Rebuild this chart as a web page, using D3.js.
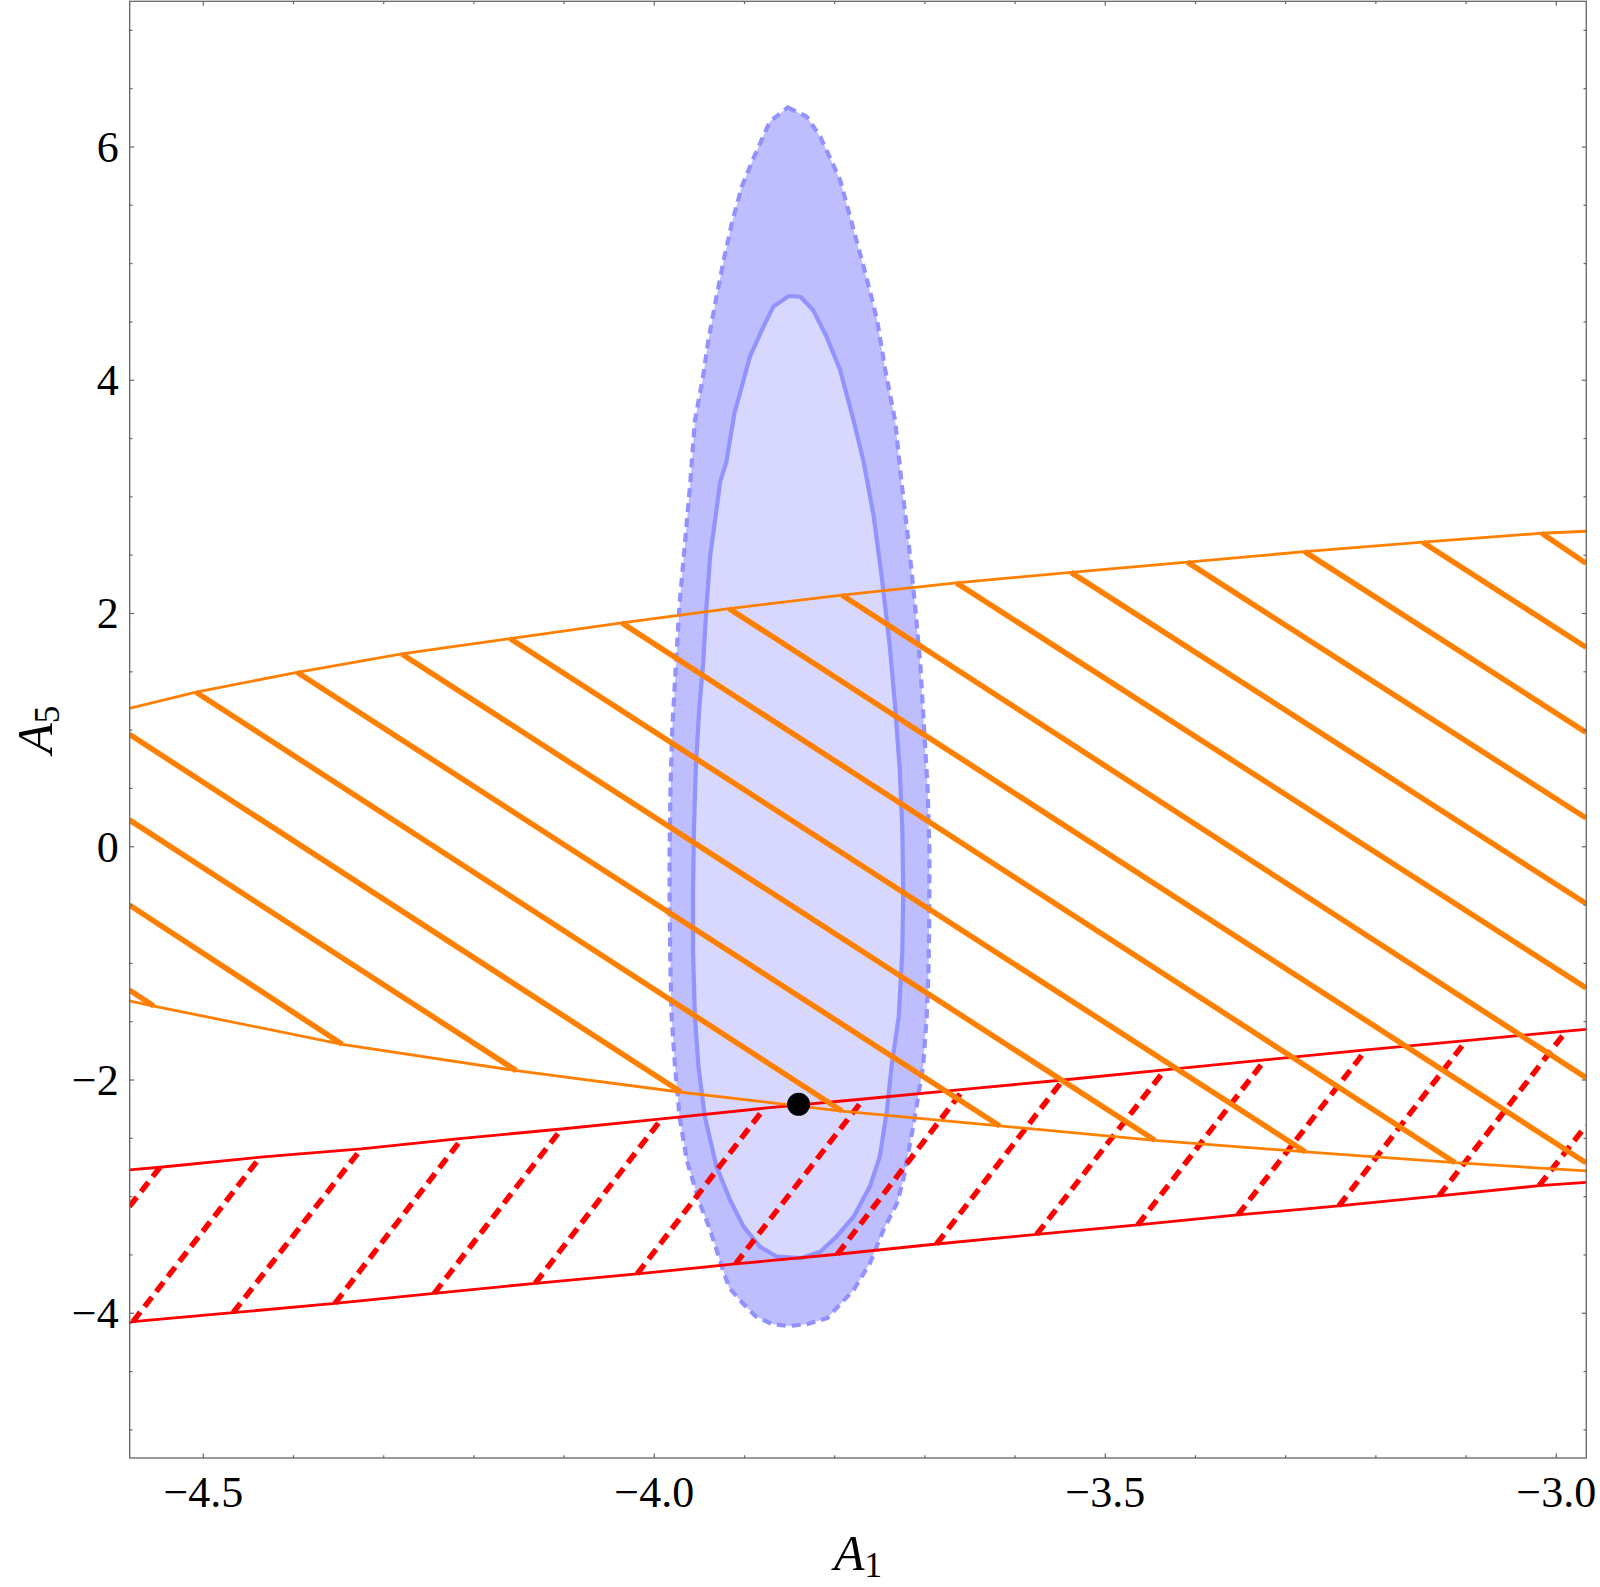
<!DOCTYPE html>
<html><head><meta charset="utf-8">
<script src="https://cdn.jsdelivr.net/npm/d3@7"></script>
<style>body{margin:0;background:#fff}svg{display:block}</style>
</head><body>
<svg id="chart" width="1600" height="1587"></svg>
<script>
// ---- axes ----
const xDomain = [-4.5816, -2.9667];
const yDomain = [-5.241, 7.249];
const xMajorTicks = [-4.5, -4.0, -3.5, -3.0];
const xTickLabels = ["\u22124.5", "\u22124.0", "\u22123.5", "\u22123.0"];
const yMajorTicks = [-4, -2, 0, 2, 4, 6];
const yTickLabels = ["\u22124", "\u22122", "0", "2", "4", "6"];
const xLabel = ["A", "1"];
const yLabel = ["A", "5"];

// ---- blue confidence regions (A1, A5) ----
const blueOuter = [
  [-3.852,6.339],[-3.831,6.260],[-3.816,6.088],[-3.805,5.903],[-3.794,5.717],[-3.785,5.460],
  [-3.776,5.203],[-3.765,4.888],[-3.753,4.517],[-3.744,4.088],[-3.733,3.652],[-3.726,3.128],
  [-3.718,2.602],[-3.711,2.077],[-3.705,1.553],[-3.701,1.027],[-3.697,0.502],[-3.695,-0.023],
  [-3.695,-0.547],[-3.696,-1.072],[-3.698,-1.457],[-3.702,-1.886],[-3.713,-2.400],[-3.724,-2.857],
  [-3.731,-3.057],[-3.746,-3.286],[-3.761,-3.571],[-3.779,-3.800],[-3.808,-4.040],[-3.830,-4.092],
  [-3.850,-4.109],[-3.870,-4.092],[-3.888,-4.023],[-3.902,-3.914],[-3.917,-3.781],[-3.925,-3.601],
  [-3.938,-3.286],[-3.951,-3.029],[-3.964,-2.686],[-3.972,-2.314],[-3.977,-1.886],[-3.981,-1.428],
  [-3.982,-1.072],[-3.983,-0.547],[-3.983,-0.023],[-3.982,0.502],[-3.980,1.027],[-3.976,1.553],
  [-3.972,2.077],[-3.966,2.602],[-3.960,3.128],[-3.955,3.652],[-3.946,4.028],[-3.940,4.345],
  [-3.931,4.716],[-3.923,5.031],[-3.914,5.346],[-3.903,5.660],[-3.890,5.903],[-3.872,6.217]
];
const blueInner = [
  [-3.851,4.722],[-3.838,4.716],[-3.824,4.602],[-3.809,4.374],[-3.794,4.088],[-3.779,3.652],
  [-3.768,3.303],[-3.757,2.847],[-3.748,2.323],[-3.739,1.727],[-3.733,1.203],[-3.728,0.677],
  [-3.725,0.152],[-3.724,-0.372],[-3.725,-0.897],[-3.729,-1.457],[-3.737,-1.886],[-3.742,-2.257],
  [-3.750,-2.657],[-3.761,-2.914],[-3.779,-3.172],[-3.798,-3.343],[-3.816,-3.472],[-3.838,-3.528],
  [-3.864,-3.515],[-3.883,-3.429],[-3.901,-3.257],[-3.916,-3.029],[-3.931,-2.743],[-3.944,-2.314],
  [-3.951,-1.886],[-3.955,-1.457],[-3.957,-0.897],[-3.957,-0.372],[-3.956,0.152],[-3.954,0.677],
  [-3.950,1.203],[-3.946,1.553],[-3.942,2.077],[-3.938,2.497],[-3.933,2.777],[-3.927,3.128],
  [-3.920,3.303],[-3.911,3.722],[-3.901,4.002],[-3.894,4.202],[-3.879,4.459],[-3.868,4.631]
];

// ---- orange band ----
const orangeUpper = [
  [-4.582,1.187],[-4.508,1.325],[-4.396,1.496],[-4.280,1.653],[-4.160,1.785],[-4.036,1.920],
  [-3.917,2.042],[-3.792,2.158],[-3.665,2.263],[-3.538,2.353],[-3.409,2.440],[-3.279,2.530],
  [-3.148,2.611],[-3.016,2.688],[-2.967,2.705]
];
const orangeLower = [
  [-4.582,-1.322],[-4.555,-1.366],[-4.346,-1.694],[-4.153,-1.920],[-3.970,-2.105],[-3.792,-2.266],
  [-3.617,-2.394],[-3.445,-2.517],[-3.278,-2.617],[-3.112,-2.709],[-2.967,-2.780]
];
const orangeHatch = [
  [-4.582,-1.228,-4.555,-1.366],[-4.582,-0.499,-4.346,-1.694],[-4.582,0.230,-4.153,-1.920],
  [-4.582,0.964,-3.970,-2.105],[-4.508,1.325,-3.792,-2.266],[-4.396,1.496,-3.617,-2.394],
  [-4.280,1.653,-3.445,-2.517],[-4.160,1.785,-3.278,-2.617],[-4.036,1.920,-3.112,-2.709],
  [-3.917,2.042,-2.967,-2.710],[-3.792,2.158,-2.967,-1.980],[-3.665,2.263,-2.967,-1.210],
  [-3.538,2.353,-2.967,-0.487],[-3.409,2.440,-2.967,0.246],[-3.279,2.530,-2.967,0.981],
  [-3.148,2.611,-2.967,1.710],[-3.016,2.688,-2.967,2.430]
];

// ---- red band ----
const redUpper = [
  [-4.582,-2.771],[-4.548,-2.748],[-4.437,-2.662],[-4.325,-2.591],[-4.213,-2.500],[-4.103,-2.420],
  [-3.992,-2.334],[-3.878,-2.242],[-3.768,-2.163],[-3.657,-2.080],[-3.547,-2.000],[-3.434,-1.914],
  [-3.323,-1.828],[-3.211,-1.742],[-3.100,-1.663],[-2.989,-1.580],[-2.967,-1.565]
];
const redLower = [
  [-4.582,-4.081],[-4.578,-4.072],[-4.467,-3.995],[-4.354,-3.915],[-4.244,-3.829],[-4.132,-3.743],
  [-4.019,-3.663],[-3.910,-3.577],[-3.797,-3.494],[-3.687,-3.406],[-3.576,-3.323],[-3.464,-3.243],
  [-3.353,-3.157],[-3.241,-3.080],[-3.130,-2.994],[-3.019,-2.906],[-2.967,-2.877]
];
const redHatch = [
  [-4.582,-3.086,-4.548,-2.748],[-4.578,-4.072,-4.437,-2.662],[-4.467,-3.995,-4.325,-2.591],
  [-4.354,-3.915,-4.213,-2.500],[-4.244,-3.829,-4.103,-2.420],[-4.132,-3.743,-3.992,-2.334],
  [-4.019,-3.663,-3.878,-2.242],[-3.910,-3.577,-3.768,-2.163],[-3.797,-3.494,-3.657,-2.080],
  [-3.687,-3.406,-3.547,-2.000],[-3.576,-3.323,-3.434,-1.914],[-3.464,-3.243,-3.323,-1.828],
  [-3.353,-3.157,-3.211,-1.742],[-3.241,-3.080,-3.100,-1.663],[-3.130,-2.994,-2.989,-1.580],
  [-3.019,-2.906,-2.967,-2.391]
];

// ---- best-fit point ----
const bestFit = [[-3.840, -2.208]];

// ================= drawing =================
const plotLeft = 129.7, plotRight = 1586.3, plotTop = 1.3, plotBottom = 1458;
const x = d3.scaleLinear().domain(xDomain).range([plotLeft, plotRight]);
const y = d3.scaleLinear().domain(yDomain).range([plotBottom, plotTop]);

const svg = d3.select("#chart");
svg.append("defs").append("clipPath").attr("id", "plotclip")
  .append("rect").attr("x", plotLeft).attr("y", plotTop)
  .attr("width", plotRight - plotLeft).attr("height", plotBottom - plotTop);

const g = svg.append("g").attr("clip-path", "url(#plotclip)");
const closed = d3.line().x(d => x(d[0])).y(d => y(d[1])).curve(d3.curveLinearClosed);
const open = d3.line().x(d => x(d[0])).y(d => y(d[1]));

// blue regions
g.append("path").attr("d", closed(blueOuter)).attr("fill", "#bebeff").attr("stroke", "none");
g.append("path").attr("d", closed(blueInner)).attr("fill", "#d8d8ff").attr("stroke", "none");
g.append("path").attr("d", closed(blueOuter)).attr("fill", "none")
  .attr("stroke", "#9191ff").attr("stroke-width", 4.2).attr("stroke-dasharray", "9,6");
g.append("path").attr("d", closed(blueInner)).attr("fill", "none")
  .attr("stroke", "#9393ff").attr("stroke-width", 4.2).attr("stroke-linejoin", "round");

// red band
g.selectAll(".rh").data(redHatch).enter().append("line").attr("class", "rh")
  .attr("x1", d => x(d[0])).attr("y1", d => y(d[1])).attr("x2", d => x(d[2])).attr("y2", d => y(d[3]))
  .attr("stroke", "#ff0000").attr("stroke-width", 5.5).attr("stroke-dasharray", "12,7");
g.append("path").attr("d", open(redUpper)).attr("fill", "none").attr("stroke", "#ff0000").attr("stroke-width", 2.8);
g.append("path").attr("d", open(redLower)).attr("fill", "none").attr("stroke", "#ff0000").attr("stroke-width", 2.8);

// orange band
g.selectAll(".oh").data(orangeHatch).enter().append("line").attr("class", "oh")
  .attr("x1", d => x(d[0])).attr("y1", d => y(d[1])).attr("x2", d => x(d[2])).attr("y2", d => y(d[3]))
  .attr("stroke", "#ff8000").attr("stroke-width", 5.5);
g.append("path").attr("d", open(orangeUpper)).attr("fill", "none").attr("stroke", "#ff8000").attr("stroke-width", 2.8);
g.append("path").attr("d", open(orangeLower)).attr("fill", "none").attr("stroke", "#ff8000").attr("stroke-width", 2.8);

// point
g.selectAll(".pt").data(bestFit).enter().append("circle")
  .attr("cx", d => x(d[0])).attr("cy", d => y(d[1])).attr("r", 11.5).attr("fill", "#000");

// frame & ticks
const axisColor = "#666666";
svg.append("rect").attr("x", plotLeft).attr("y", plotTop)
  .attr("width", plotRight - plotLeft).attr("height", plotBottom - plotTop)
  .attr("fill", "none").attr("stroke", axisColor).attr("stroke-width", 1.3);

const xMinor = d3.range(-45, -29).map(v => v / 10).filter(v => !xMajorTicks.some(m => Math.abs(m - v) < 1e-9));
const yMinor = d3.range(-10, 15).map(v => v / 2).filter(v => !yMajorTicks.includes(v) && v >= yDomain[0] && v <= yDomain[1]);
const majLen = 4.5, minLen = 2.8;
const tk = svg.append("g").attr("stroke", axisColor).attr("stroke-width", 1.2);
function xt(v, len) {
  tk.append("line").attr("x1", x(v)).attr("x2", x(v)).attr("y1", plotBottom).attr("y2", plotBottom - len);
  tk.append("line").attr("x1", x(v)).attr("x2", x(v)).attr("y1", plotTop).attr("y2", plotTop + len);
}
function yt(v, len) {
  tk.append("line").attr("y1", y(v)).attr("y2", y(v)).attr("x1", plotLeft).attr("x2", plotLeft + len);
  tk.append("line").attr("y1", y(v)).attr("y2", y(v)).attr("x1", plotRight).attr("x2", plotRight - len);
}
xMajorTicks.forEach(v => xt(v, majLen));
xMinor.forEach(v => xt(v, minLen));
yMajorTicks.forEach(v => yt(v, majLen));
yMinor.forEach(v => yt(v, minLen));

const font = "'Liberation Serif', 'Times New Roman', Times, serif";
svg.append("g").selectAll("text").data(xMajorTicks).enter().append("text")
  .attr("x", d => x(d)).attr("y", plotBottom + 49)
  .attr("text-anchor", "middle").attr("font-family", font).attr("font-size", 44).attr("fill", "#000")
  .text((d, i) => xTickLabels[i]);
svg.append("g").selectAll("text").data(yMajorTicks).enter().append("text")
  .attr("x", plotLeft - 11).attr("y", d => y(d) + 15)
  .attr("text-anchor", "end").attr("font-family", font).attr("font-size", 44).attr("fill", "#000")
  .text((d, i) => yTickLabels[i]);

// axis labels
const xl = svg.append("text").attr("x", (plotLeft + plotRight) / 2).attr("y", 1570)
  .attr("text-anchor", "middle").attr("font-family", font).attr("font-size", 50).attr("fill", "#000");
xl.append("tspan").attr("font-style", "italic").text(xLabel[0]);
xl.append("tspan").attr("font-size", 35).attr("dy", 7).text(xLabel[1]);

const yl = svg.append("text")
  .attr("transform", `translate(52,${(plotTop + plotBottom) / 2}) rotate(-90)`)
  .attr("text-anchor", "middle").attr("font-family", font).attr("font-size", 50).attr("fill", "#000");
yl.append("tspan").attr("font-style", "italic").text(yLabel[0]);
yl.append("tspan").attr("font-size", 35).attr("dy", 7).text(yLabel[1]);
</script>
</body></html>
